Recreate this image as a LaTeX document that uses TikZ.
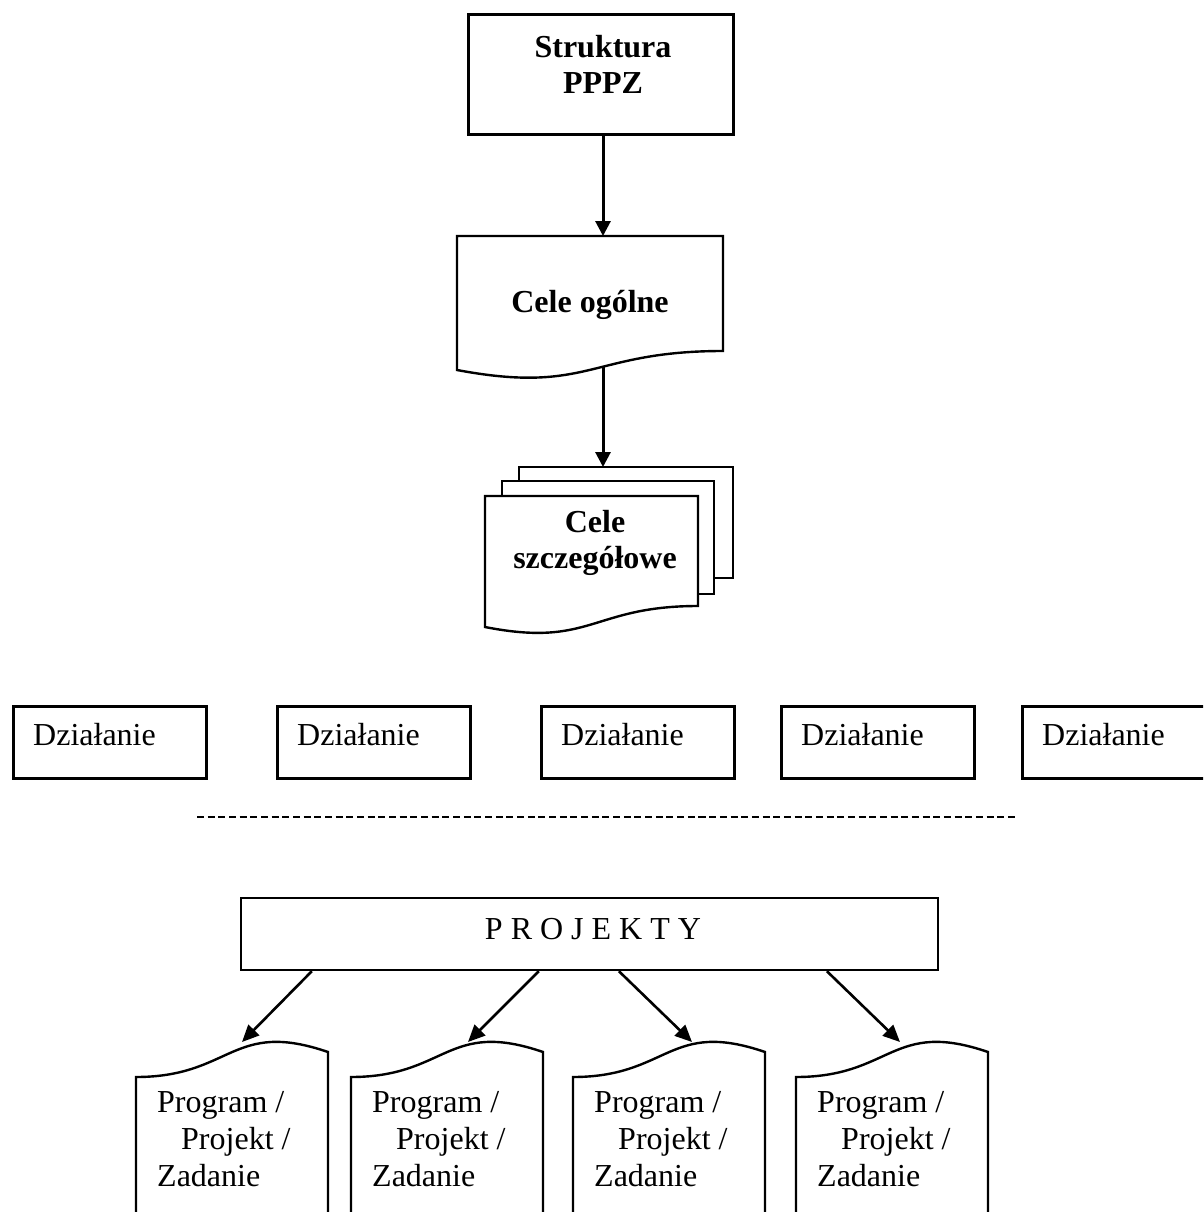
\documentclass[tikz,border=0pt]{standalone}
\usepackage{fontspec}
\setmainfont{Liberation Serif}
\usetikzlibrary{arrows.meta,calc}
\begin{document}
\begin{tikzpicture}[x=1pt,y=-1pt,
  box/.style={draw, line width=3pt, inner sep=0pt},
  thinbox/.style={draw, line width=2.3pt, inner sep=0pt},
  shapeline/.style={line width=2.4pt, line join=miter},
  arr/.style={line width=3pt, -{Triangle[width=15pt,length=15pt]}},
  arrb/.style={line width=2.6pt, -{Triangle[width=15pt,length=17pt]}},
  txt/.style={font=\fontsize{32}{37}\selectfont, inner sep=0pt},
  btxt/.style={font=\fontsize{32}{36}\selectfont\bfseries, inner sep=0pt},
  ]
\useasboundingbox (0,0) rectangle (1203,1212);
\clip (0,0) rectangle (1203,1212);

% top box
\node[box, minimum width=265pt, minimum height=120pt] (struct) at (600.5,75) {};
\node[btxt, align=center] (structtxt) at (603,64) {Struktura\\PPPZ};

% Cele ogolne (document shape)
\draw[shapeline] (457,236) -- (723,236) -- (723,351) .. controls (590,351) and (590,395) .. (457,370) -- cycle;
\coordinate (ogtop) at (603,236);
\coordinate (ogbot) at (603,366);
\node[btxt, anchor=base] (ogtxt) at (590,312) {Cele ogólne};
\draw[arr] (ogtop |- struct.south) -- (ogtop);

% Cele szczegolowe (multi-document)
\draw[shapeline] (519,481) -- (519,467) -- (733,467) -- (733,578) -- (714,578);
\draw[shapeline] (502,496) -- (502,481) -- (714,481) -- (714,594) -- (698,594);
\draw[shapeline] (485,496) -- (698,496) -- (698,606) .. controls (591.5,606) and (591.5,648) .. (485,627) -- cycle;
\coordinate (mdtop) at (603,467);
\draw[arr] (ogbot) -- (mdtop);
\node[btxt, align=center] (mdtxt) at (595,542.5) {Cele\\szczegółowe};

% Dzialanie boxes
\foreach \i/\L in {1/12, 2/276, 3/540, 4/780, 5/1021} {
  \node[box, minimum width=193pt, minimum height=72pt, anchor=north west] (d\i) at (\L,705) {};
  \node[txt, anchor=base west] (d\i t) at ($(d\i.north west)+(21,40)$) {Działanie};
}

% dashed separator
\draw[line width=2.3pt, dash pattern=on 7pt off 3.67pt] (197,817) -- (1015,817);

% PROJEKTY
\node[thinbox, minimum width=697pt, minimum height=72pt] (proj) at (589.5,934) {};
\node[txt, anchor=base] (projt) at (593,939) {P R O J E K T Y};

% bottom documents
\foreach \i/\L/\tip in {1/136/242, 2/351/468, 3/573/692, 4/796/900} {
  \draw[shapeline] (\L,1216) -- (\L,1077) .. controls (\L+96,1077) and (\L+96,1019) .. (\L+192,1052) -- (\L+192,1216);
  \coordinate (b\i) at (\tip,1042);
  \node[txt, align=left, anchor=west] (b\i t) at (\L+21,1139) {Program /\\\hspace*{24pt}Projekt /\\Zadanie};
}
\draw[arrb] ($(proj.south west)+(72,0)$) -- (b1);
\draw[arrb] ($(proj.south west)+(299,0)$) -- (b2);
\draw[arrb] ($(proj.south west)+(379,0)$) -- (b3);
\draw[arrb] ($(proj.south west)+(587,0)$) -- (b4);
\end{tikzpicture}
\end{document}
